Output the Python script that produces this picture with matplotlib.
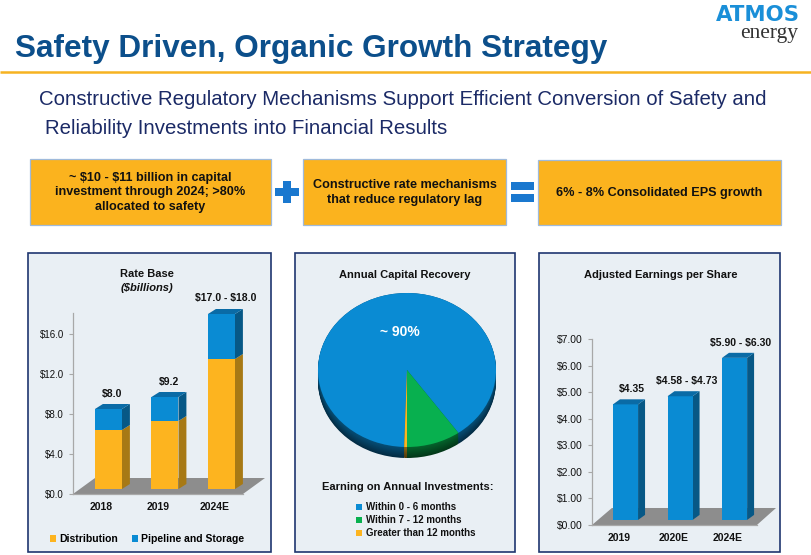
import matplotlib
matplotlib.use("Agg")
import matplotlib.pyplot as plt
from matplotlib.patches import Rectangle, Polygon, Patch
from matplotlib import font_manager
import numpy as np

W, H = 811, 555

# ---------------- data ----------------
slide_title = "Safety Driven, Organic Growth Strategy"
subtitle_lines = ["Constructive Regulatory Mechanisms Support Efficient Conversion of Safety and",
                  "Reliability Investments into Financial Results"]
box_texts = ["~ $10 - $11 billion in capital\ninvestment through 2024; >80%\nallocated to safety",
             "Constructive rate mechanisms\nthat reduce regulatory lag",
             "6% - 8% Consolidated EPS growth"]

rb_title = "Rate Base"
rb_unit = "($billions)"
rb_years = ["2018", "2019", "2024E"]
rb_distribution = [5.9, 6.8, 13.0]
rb_pipeline = [2.1, 2.4, 4.5]
rb_labels = ["$8.0", "$9.2", "$17.0 - $18.0"]
rb_ticks = [0, 4, 8, 12, 16]
rb_ticklabels = ["$0.0", "$4.0", "$8.0", "$12.0", "$16.0"]
rb_series = ["Distribution", "Pipeline and Storage"]

pie_title = "Annual Capital Recovery"
pie_labels = ["Within 0 - 6 months", "Within 7 - 12 months", "Greater than 12 months"]
pie_values = [89.7, 9.8, 0.5]
pie_note = "~ 90%"
pie_legend_title = "Earning on Annual Investments:"

eps_title = "Adjusted Earnings per Share"
eps_years = ["2019", "2020E", "2024E"]
eps_values = [4.35, 4.655, 6.10]
eps_labels = ["$4.35", "$4.58 - $4.73", "$5.90 - $6.30"]
eps_ticks = [0, 1, 2, 3, 4, 5, 6, 7]
eps_ticklabels = ["$0.00", "$1.00", "$2.00", "$3.00", "$4.00", "$5.00", "$6.00", "$7.00"]

# ---------------- style ----------------
ORANGE = "#fdb41f"
ORANGE_SIDE = "#a77915"
BLUE = "#0a8bd3"
BLUE_SIDE = "#075886"
BLUE_TOP = "#0a6ba6"
GREEN = "#08b04f"
FLOOR = "#8d8d8d"
AXIS = "#a8a8a8"
PANEL_FACE = "#e9eff4"
PANEL_EDGE = "#1f3670"
TXT = "#111111"

names = {f.name for f in font_manager.fontManager.ttflist}
SANS = "Liberation Sans" if "Liberation Sans" in names else "DejaVu Sans"
NARROW = "Liberation Sans Narrow" if "Liberation Sans Narrow" in names else SANS
SERIF = "Liberation Serif" if "Liberation Serif" in names else "DejaVu Serif"
plt.rcParams["font.family"] = [SANS, "DejaVu Sans"]
plt.rcParams["text.parse_math"] = False

fig = plt.figure(figsize=(W / 100, H / 100), dpi=100)
fig.patch.set_facecolor("white")
renderer = fig.canvas.get_renderer()

bg = fig.add_axes([0, 0, 1, 1])
bg.set_xlim(0, W)
bg.set_ylim(H, 0)
bg.axis("off")


def fit(t, target):
    w = t.get_window_extent(renderer).width
    t.set_fontsize(t.get_fontsize() * target / w)
    return t.get_fontsize()


def px_axes(x0, y0, x1, y1):
    return fig.add_axes([x0 / W, 1 - y1 / H, (x1 - x0) / W, (y1 - y0) / H])


# ---------------- header ----------------
t = bg.text(15, 57, slide_title, color="#0c4f8b", fontsize=23, fontweight="bold", va="baseline")
fit(t, 592)
bg.plot([0, W], [71.6, 71.6], color="#f6b321", lw=1.8, solid_capstyle="butt")

t = bg.text(800, 21, "ATMOS", color="#1a8fd8", fontsize=12, fontweight="heavy",
            family="DejaVu Sans", ha="right", va="baseline")
fit(t, 84)
t = bg.text(798, 38, "energy", color="#333333", fontsize=11, family=SERIF, ha="right", va="baseline")
fit(t, 58)

st1 = bg.text(39, 105, subtitle_lines[0], color="#1b2a66", fontsize=15, va="baseline")
fs = fit(st1, 731)
bg.text(45, 134, subtitle_lines[1], color="#1b2a66", fontsize=fs, va="baseline")

# ---------------- boxes ----------------
boxes = [(30, 159, 271, 225), (303, 159, 506, 225), (538, 160, 781, 225)]
for (x0, y0, x1, y1) in boxes:
    bg.add_patch(Rectangle((x0, y0), x1 - x0, y1 - y0, fc="#fbb31e", ec="#9fbadb", lw=0.9))
probe = bg.text(0, -50, box_texts[0].split("\n")[1], fontsize=9, fontweight="bold", family=[NARROW, SANS])
bfs = fit(probe, 190)
probe.remove()
for (x0, y0, x1, y1), s in zip(boxes, box_texts):
    bg.text((x0 + x1) / 2, (y0 + y1) / 2 + 0.5, s, ha="center", va="center", fontsize=bfs,
            fontweight="bold", family=[NARROW, SANS], color=TXT, linespacing=1.3)
# plus sign and equals sign
SIGN = "#1a78cf"
bg.add_patch(Rectangle((275, 188), 24, 8, fc=SIGN, lw=0))
bg.add_patch(Rectangle((283, 181), 8, 22, fc=SIGN, lw=0))
bg.add_patch(Rectangle((511, 182), 23, 8, fc=SIGN, lw=0))
bg.add_patch(Rectangle((511, 194), 23, 8, fc=SIGN, lw=0))

# ---------------- panels ----------------
for (x0, x1) in [(28, 271), (295, 515), (539, 780)]:
    bg.add_patch(Rectangle((x0, 253), x1 - x0, 299, fc=PANEL_FACE, ec=PANEL_EDGE, lw=1.2))


def bar3d(ax, xs, bottoms, heights, width, dx, dy, front, side, top=None):
    for x, b, h in zip(xs, bottoms, heights):
        ax.bar(x, h, bottom=b, width=width, color=front, lw=0, zorder=4, clip_on=False)
        xr = x + width / 2
        ax.add_patch(Polygon([(xr, b), (xr + dx, b + dy), (xr + dx, b + h + dy), (xr, b + h)],
                             closed=True, fc=side, lw=0, zorder=3, clip_on=False))
        if top is not None:
            xl = x - width / 2
            ax.add_patch(Polygon([(xl, b + h), (xl + dx, b + h + dy), (xr + dx, b + h + dy), (xr, b + h)],
                                 closed=True, fc=top, lw=0, zorder=4, clip_on=False))


def style_axes(ax, xmin, floor_right):
    ax.set_facecolor("none")
    for s in ["top", "right"]:
        ax.spines[s].set_visible(False)
    ax.spines["left"].set_color(AXIS)
    ax.spines["bottom"].set_color(AXIS)
    ax.spines["left"].set_linewidth(0.9)
    ax.spines["bottom"].set_linewidth(0.9)
    ax.spines["bottom"].set_bounds(xmin, floor_right)
    ax.tick_params(axis="y", length=3, width=0.8, color=AXIS, pad=3.5, labelcolor=TXT)
    ax.tick_params(axis="x", length=0, pad=5.5, labelcolor=TXT)


# ---- Panel 1: Rate Base ----
bg.text(147, 274, rb_title, ha="center", va="center", fontsize=8, fontweight="bold", color=TXT)
bg.text(147, 288, rb_unit, ha="center", va="center", fontsize=8, fontweight="bold", style="italic", color=TXT)
ax1 = px_axes(73, 313, 265, 494)
x1 = np.arange(len(rb_years))
xmin1, xmax1 = -0.628, 2.77
ax1.set_xlim(xmin1, xmax1)
ax1.set_ylim(0, 18.1)
style_axes(ax1, xmin1, 2.38)
ax1.add_patch(Polygon([(xmin1, 0), (2.38, 0), (xmax1, 1.6), (-0.239, 1.6)], closed=True,
                      fc=FLOOR, lw=0, zorder=1))
w1, dx1, dy1, base1 = 0.478, 0.14, 0.5, 0.5
dist = np.array(rb_distribution)
pipe = np.array(rb_pipeline)
bar3d(ax1, x1, np.full(3, base1), dist, w1, dx1, dy1, ORANGE, ORANGE_SIDE)
bar3d(ax1, x1, base1 + dist, pipe, w1, dx1, dy1, BLUE, BLUE_SIDE, BLUE_TOP)
for xi, tot, lab in zip(x1, dist + pipe, rb_labels):
    ax1.text(xi + dx1 / 2, tot + base1 + dy1 + 0.55, lab, ha="center", va="bottom",
             fontsize=7.5, fontweight="bold", color=TXT, clip_on=False)
ax1.set_yticks(rb_ticks, rb_ticklabels, fontsize=7)
ax1.set_xticks(x1 - 0.13, rb_years, fontsize=7.5, fontweight="bold")
leg = ax1.legend([Patch(fc=ORANGE), Patch(fc=BLUE)], rb_series, loc="center",
                 bbox_to_anchor=(147 / W, 1 - 539 / H), bbox_transform=fig.transFigure,
                 ncol=2, frameon=False, prop={"size": 7.5, "weight": "bold"},
                 handlelength=0.6, handleheight=0.6, handletextpad=0.3, columnspacing=1.3)

# ---- Panel 2: pie ----
bg.text(405, 275, pie_title, ha="center", va="center", fontsize=8, fontweight="bold", color=TXT)
ax2 = px_axes(318, 293, 496, 459)
pie_colors = np.array([matplotlib.colors.to_rgb(c) for c in [BLUE, GREEN, ORANGE]])
start = 270 - pie_values[2] * 3.6
depth = 11 / 77
n_layers = 14
for k in range(n_layers):
    d = depth * (1 - k / (n_layers - 1))
    f = 0.32 + 0.25 * (k / (n_layers - 1))
    ax2.pie(pie_values, colors=[tuple(c * f) for c in pie_colors], startangle=start,
            counterclock=False, center=(0, -d), radius=1, wedgeprops=dict(linewidth=0))
ax2.pie(pie_values, colors=[BLUE, GREEN, ORANGE], startangle=start, counterclock=False,
        center=(0, 0), radius=1, wedgeprops=dict(linewidth=0))
ax2.set_aspect("auto")
ax2.set_xlim(-1, 1)
ax2.set_ylim(-1 - 12 / 77, 1)
ax2.axis("off")
ax2.text(-0.08, 0.49, pie_note, ha="center", va="center", color="white", fontsize=10, fontweight="bold")
bg.text(408, 487, pie_legend_title, ha="center", va="center", fontsize=8, fontweight="bold", color=TXT)
for i, (lab, col) in enumerate(zip(pie_labels, [BLUE, GREEN, ORANGE])):
    y = 507 + 13 * i
    bg.add_patch(Rectangle((356, y - 3), 6, 6, fc=col, lw=0))
    bg.text(366, y, lab, va="center", ha="left", fontsize=7, fontweight="bold", color=TXT)

# ---- Panel 3: EPS ----
bg.text(661, 275, eps_title, ha="center", va="center", fontsize=8, fontweight="bold", color=TXT)
ax3 = px_axes(592, 339, 776, 525)
x3 = np.arange(len(eps_years))
xmin3, xmax3 = -0.615, 2.76
ax3.set_xlim(xmin3, xmax3)
ax3.set_ylim(0, 7)
style_axes(ax3, xmin3, 2.41)
ax3.add_patch(Polygon([(xmin3, 0), (2.41, 0), (xmax3, 0.64), (-0.25, 0.64)], closed=True,
                      fc=FLOOR, lw=0, zorder=1))
w3, dx3, dy3, base3 = 0.46, 0.128, 0.19, 0.19
ev = np.array(eps_values)
bar3d(ax3, x3, np.full(3, base3), ev, w3, dx3, dy3, BLUE, BLUE_SIDE, BLUE_TOP)
for xi, v, lab in zip(x3, ev, eps_labels):
    ax3.text(xi + dx3 / 2 + 0.05, v + base3 + dy3 + 0.2, lab, ha="center", va="bottom",
             fontsize=7.5, fontweight="bold", color=TXT, clip_on=False)
ax3.set_yticks(eps_ticks, eps_ticklabels, fontsize=7.5)
ax3.set_xticks(x3 - 0.12, eps_years, fontsize=7.5, fontweight="bold")

fig.savefig("out.png", dpi=100, facecolor="white")
